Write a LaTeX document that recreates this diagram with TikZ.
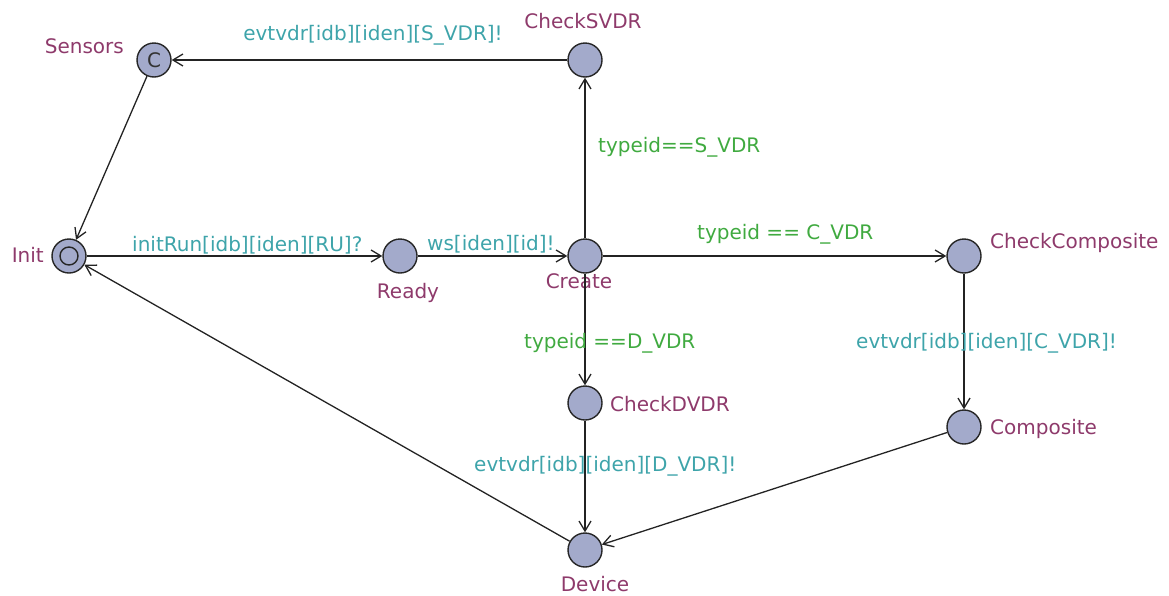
\documentclass[tikz,border=0pt]{standalone}
\usepackage{fontspec}
\setmainfont{DejaVu Sans}
\usetikzlibrary{arrows.meta}
\definecolor{locfill}{RGB}{163,170,203}
\definecolor{locname}{RGB}{142,58,107}
\definecolor{synccol}{RGB}{62,164,170}
\definecolor{guardcol}{RGB}{64,170,64}
\definecolor{edgecol}{RGB}{35,35,35}
\tikzset{
  loc/.style={circle,draw=black!85,line width=1.4pt,fill=locfill,minimum size=34pt,inner sep=0pt},
  lname/.style={text=locname,inner sep=0pt},
  sync/.style={text=synccol,inner sep=0pt},
  guard/.style={text=guardcol,inner sep=0pt},
  edge/.style={draw=edgecol,line width=1.3pt,-{Straight Barb[length=10pt,width=12pt,line width=1.3pt]}}
}
\begin{document}
\begin{tikzpicture}[x=1pt,y=-1pt,font=\fontsize{20}{24}\selectfont]
\useasboundingbox (0,0) rectangle (1169,595);
% locations
\node[loc] (sensors) at (154,60) {};
\node[text=black!80] (sensorsC) at (sensors.center) {C};
\node[loc] (checks) at (585,60) {};
\node[loc] (init) at (69,256) {};
\draw[black!85,line width=1.4pt] (init.center) circle[radius=9];
\node[loc] (ready) at (400,256) {};
\node[loc] (create) at (585,256) {};
\node[loc] (checkc) at (964,256) {};
\node[loc] (checkd) at (585,403) {};
\node[loc] (composite) at (964,427) {};
\node[loc] (device) at (585,550) {};
% location names
\node[lname,anchor=base east] (nSensors) at (124,53) {Sensors};
\node[lname,anchor=base] (nChecks) at (583,28) {CheckSVDR};
\node[lname,anchor=base east] (nInit) at (44,262) {Init};
\node[lname,anchor=base] (nReady) at (408,298) {Ready};
\node[lname,anchor=base] (nCreate) at (579,288) {Create};
\node[lname,anchor=base west] (nCheckc) at (990,248) {CheckComposite};
\node[lname,anchor=base west] (nCheckd) at (610,411) {CheckDVDR};
\node[lname,anchor=base west] (nComposite) at (990,434) {Composite};
\node[lname,anchor=base,text depth=0pt] (nDevice) at (595,591) {Device};
% edges
\draw[edge] (checks) -- (sensors);
\draw[edge] (sensors) -- (init);
\draw[edge] (init) -- (ready);
\draw[edge] (ready) -- (create);
\draw[edge] (create) -- (checks);
\draw[edge] (create) -- (checkc);
\draw[edge] (create) -- (checkd);
\draw[edge] (checkd) -- (device);
\draw[edge] (checkc) -- (composite);
\draw[edge] (composite) -- (device);
\draw[edge] (device) -- (init);
% edge labels
\node[sync,anchor=base] (l1) at (373,40) {evtvdr[idb][iden][S\_VDR]!};
\node[guard,anchor=base west] (l2) at (598,152) {typeid==S\_VDR};
\node[sync,anchor=base west] (l3) at (132,251) {initRun[idb][iden][RU]?};
\node[sync,anchor=base west] (l4) at (427,250) {ws[iden][id]!};
\node[guard,anchor=base west] (l5) at (697,239) {typeid == C\_VDR};
\node[guard,anchor=base west] (l6) at (524,348) {typeid ==D\_VDR};
\node[sync,anchor=base west] (l7) at (856,348) {evtvdr[idb][iden][C\_VDR]!};
\node[sync,anchor=base west] (l8) at (474,471) {evtvdr[idb][iden][D\_VDR]!};
\end{tikzpicture}
\end{document}
